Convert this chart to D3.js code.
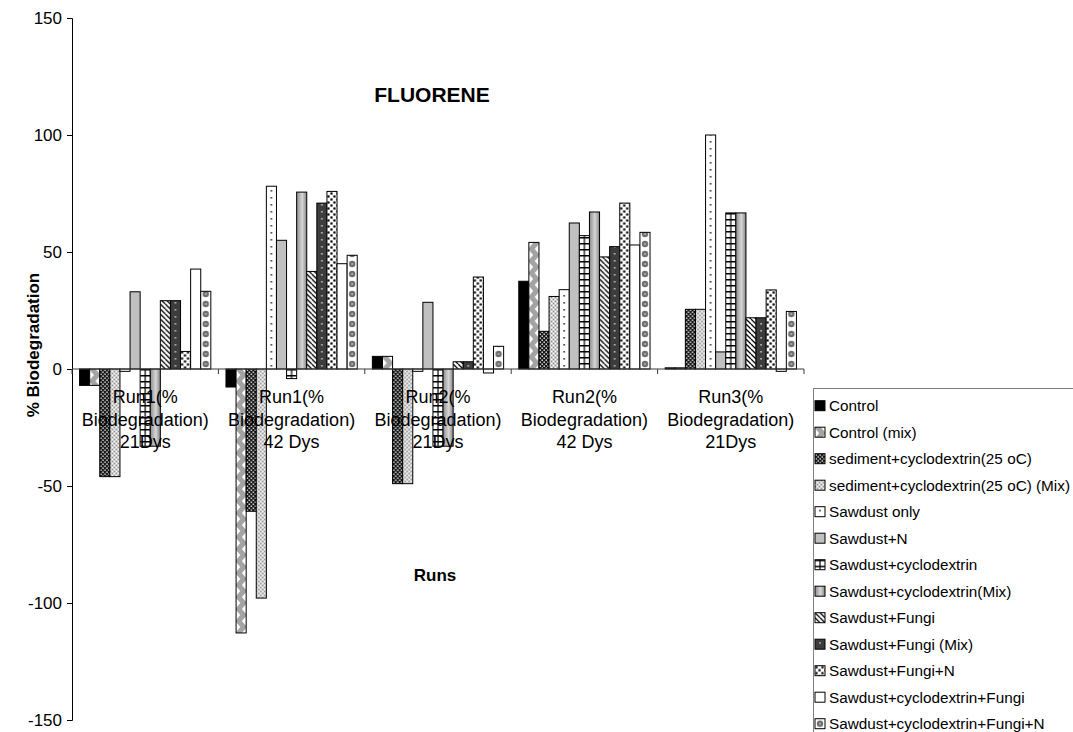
<!DOCTYPE html>
<html>
<head>
<meta charset="utf-8">
<script src="https://cdn.jsdelivr.net/npm/d3@7"></script>
<style>
  body { margin: 0; background: #fff; }
  svg { display: block; }
  text { font-family: "Liberation Sans", Arial, sans-serif; fill: #000; }
</style>
</head>
<body>
<svg id="chart" width="1073" height="732"></svg>
<script>
// ---- data -------------------------------------------------------------
const categories = [
  "Run1(% Biodegradation) 21Dys",
  "Run1(% Biodegradation) 42 Dys",
  "Run2(% Biodegradation) 21Dys",
  "Run2(% Biodegradation) 42 Dys",
  "Run3(% Biodegradation) 21Dys"
];
const categoryLines = [
  ["Run1(%", "Biodegradation)", "21Dys"],
  ["Run1(%", "Biodegradation)", "42 Dys"],
  ["Run2(%", "Biodegradation)", "21Dys"],
  ["Run2(%", "Biodegradation)", "42 Dys"],
  ["Run3(%", "Biodegradation)", "21Dys"]
];
const seriesNames = [
  "Control",
  "Control (mix)",
  "sediment+cyclodextrin(25 oC)",
  "sediment+cyclodextrin(25 oC) (Mix)",
  "Sawdust only",
  "Sawdust+N",
  "Sawdust+cyclodextrin",
  "Sawdust+cyclodextrin(Mix)",
  "Sawdust+Fungi",
  "Sawdust+Fungi (Mix)",
  "Sawdust+Fungi+N",
  "Sawdust+cyclodextrin+Fungi",
  "Sawdust+cyclodextrin+Fungi+N"
];
const control            = [-7.0,   -7.7,   5.4, 37.5,   0.5];
const controlMix         = [-7.0, -112.8,   5.4, 54.1,   0.5];
const sedCyclo           = [-46.0, -60.8, -49.0, 16.1,  25.5];
const sedCycloMix        = [-46.0, -97.9, -49.0, 31.0,  25.5];
const sawdustOnly        = [-1.0,   78.1,  -1.0, 33.9, 100.0];
const sawdustN           = [33.0,   55.0,  28.5, 62.4,   7.3];
const sawdustCyclo       = [-33.0,  -4.1, -33.0, 57.0,  66.7];
const sawdustCycloMix    = [-33.0,  75.6, -33.0, 67.1,  66.7];
const sawdustFungi       = [29.2,   41.7,   3.1, 47.9,  21.9];
const sawdustFungiMix    = [29.2,   70.9,   3.1, 52.3,  21.9];
const sawdustFungiN      = [7.5,    75.9,  39.3, 70.9,  33.8];
const sawdustCycloFungi  = [42.7,   45.0,  -1.7, 53.0,  -1.0];
const sawdustCycloFungiN = [33.2,   48.6,   9.7, 58.4,  24.6];
const yTicks = [-150, -100, -50, 0, 50, 100, 150];

const seriesValues = [control, controlMix, sedCyclo, sedCycloMix, sawdustOnly, sawdustN,
  sawdustCyclo, sawdustCycloMix, sawdustFungi, sawdustFungiMix, sawdustFungiN,
  sawdustCycloFungi, sawdustCycloFungiN];
// fill style of each series (grayscale hatch patterns)
const seriesFills = ["solid-black", "zigzag", "weave", "stipple", "dots", "solid-gray",
  "ladder", "gradient", "diag", "darkdots", "checker", "white", "blobs"];

// ---- layout -----------------------------------------------------------
const svg = d3.select("#chart");
const plot = { left: 72, right: 804, top: 18, bottom: 720 };

const x0 = d3.scaleBand().domain(categories).range([plot.left, plot.right]).padding(0);
const x1 = d3.scaleBand().domain(seriesNames).range([0, x0.bandwidth()])
  .paddingInner(0).paddingOuter(0.75);
const y = d3.scaleLinear().domain([-150, 150]).range([plot.bottom, plot.top]);
const bw = x1.bandwidth();
const zeroY = y(0);

const defs = svg.append("defs");

// gradient used by the "(Mix)" cyclodextrin series
const grad = defs.append("linearGradient").attr("id", "grad-mix")
  .attr("x1", 0).attr("x2", 1).attr("y1", 0).attr("y2", 0);
grad.append("stop").attr("offset", 0).attr("stop-color", "#8e8e8e");
grad.append("stop").attr("offset", 0.55).attr("stop-color", "#d6d6d6");
grad.append("stop").attr("offset", 1).attr("stop-color", "#858585");

// draws one tile of a hatch style; w = bar width, tile spans one group step
const hatch = {
  zigzag: { h: 12, bg: "#a3a3a3", draw(p, w) {
    p.append("path").attr("fill", "#fff")
      .attr("d", `M0,1L${w * 0.42},6L0,11Z M${w},-5L${w * 0.58},0L${w},5Z M${w},7L${w * 0.58},12L${w},17Z`);
  }},
  weave: { h: 4, bg: "#151515", draw(p, w) {
    for (let i = 0; i < w; i += 4) {
      p.append("rect").attr("x", i + 0.5).attr("y", 0.5).attr("width", 1.4).attr("height", 1.4).attr("fill", "#fff");
      p.append("rect").attr("x", i + 2.5).attr("y", 2.5).attr("width", 1.4).attr("height", 1.4).attr("fill", "#fff");
    }
  }},
  stipple: { h: 4, bg: "#cfcfcf", draw(p, w) {
    for (let i = 0; i < w; i += 4) {
      p.append("rect").attr("x", i).attr("y", 0).attr("width", 1).attr("height", 1).attr("fill", "#fff");
      p.append("rect").attr("x", i + 2).attr("y", 2).attr("width", 1).attr("height", 1).attr("fill", "#fff");
      p.append("rect").attr("x", i + 2).attr("y", 0).attr("width", 1).attr("height", 1).attr("fill", "#8a8a8a");
      p.append("rect").attr("x", i).attr("y", 2).attr("width", 1).attr("height", 1).attr("fill", "#8a8a8a");
    }
  }},
  dots: { h: 7, bg: "#fff", draw(p, w) {
    p.append("rect").attr("x", w / 2 - 0.8).attr("y", 3).attr("width", 1.6).attr("height", 1.6).attr("fill", "#333");
  }},
  ladder: { h: 6, bg: "#fff", draw(p, w) {
    p.append("rect").attr("x", 0).attr("y", 0).attr("width", w).attr("height", 1.5).attr("fill", "#000");
    p.append("rect").attr("x", w / 2 - 0.6).attr("y", 0).attr("width", 1.2).attr("height", 6).attr("fill", "#000");
  }},
  diag: { h: 5, bg: "#fff", draw(p, w) {
    for (let i = -5; i < w + 5; i += 5) {
      p.append("line").attr("x1", i).attr("y1", 0).attr("x2", i + 5).attr("y2", 5)
        .attr("stroke", "#000").attr("stroke-width", 1.3);
    }
  }},
  darkdots: { h: 7, bg: "#3c3c3c", draw(p, w) {
    p.append("rect").attr("x", w / 2 - 0.8).attr("y", 3).attr("width", 1.6).attr("height", 1.6).attr("fill", "#bdbdbd");
  }},
  checker: { h: 6, bg: "#fff", draw(p, w) {
    for (let i = 0; i < w; i += 6) {
      p.append("rect").attr("x", i + 0.4).attr("y", 0.4).attr("width", 2.2).attr("height", 2.2).attr("fill", "#000");
      p.append("rect").attr("x", i + 3.4).attr("y", 3.4).attr("width", 2.2).attr("height", 2.2).attr("fill", "#000");
    }
  }},
  blobs: { h: 10, bg: "#fff", draw(p, w) {
    p.append("circle").attr("cx", w / 2).attr("cy", 5).attr("r", 3.2).attr("fill", "#6e6e6e");
    p.append("rect").attr("x", w / 2 - 0.6).attr("y", 4.4).attr("width", 1.2).attr("height", 1.2).attr("fill", "#fff");
  }}
};

function fillFor(kind, id, ox, oy, tileW, w) {
  if (kind === "solid-black") return "#000";
  if (kind === "solid-gray") return "#c0c0c0";
  if (kind === "white") return "#fff";
  if (kind === "gradient") return "url(#grad-mix)";
  const spec = hatch[kind];
  const p = defs.append("pattern").attr("id", id)
    .attr("patternUnits", "userSpaceOnUse")
    .attr("x", ox).attr("y", oy).attr("width", tileW).attr("height", spec.h);
  p.append("rect").attr("width", tileW).attr("height", spec.h).attr("fill", spec.bg);
  spec.draw(p, w);
  return `url(#${id})`;
}

// ---- bars -------------------------------------------------------------
const series = seriesNames.map((name, i) => ({
  name, i, values: seriesValues[i],
  fill: fillFor(seriesFills[i], "bar-pat-" + i, plot.left + x1(name), zeroY, x0.step(), bw)
}));

const barGroups = svg.append("g").selectAll("g").data(series).join("g")
  .attr("fill", d => d.fill);
barGroups.selectAll("rect")
  .data(d => d.values.map((v, k) => ({ v, cat: categories[k], name: d.name })))
  .join("rect")
  .attr("x", d => x0(d.cat) + x1(d.name))
  .attr("y", d => Math.min(y(d.v), zeroY))
  .attr("width", bw)
  .attr("height", d => Math.abs(y(d.v) - zeroY))
  .attr("stroke", "#000")
  .attr("stroke-width", 1);

// ---- axes -------------------------------------------------------------
const yAxis = svg.append("g").attr("transform", `translate(${plot.left},0)`)
  .call(d3.axisLeft(y).tickValues(yTicks).tickSize(5).tickPadding(5).tickFormat(d => String(d)));
yAxis.select(".domain").attr("stroke", "#000");
yAxis.selectAll(".tick line").attr("stroke", "#000");
yAxis.selectAll(".tick text").attr("font-size", 17)
  .attr("font-family", "'Liberation Sans', Arial, sans-serif").attr("fill", "#000");

// category axis along the zero line
const xAxis = svg.append("g").attr("transform", `translate(0,${zeroY})`);
xAxis.append("line").attr("x1", plot.left).attr("x2", plot.right)
  .attr("stroke", "#3a3a3a").attr("stroke-width", 1);
const bounds = categories.map(c => x0(c)).concat([plot.right]);
xAxis.selectAll("line.tk").data(bounds).join("line").attr("class", "tk")
  .attr("x1", d => d).attr("x2", d => d).attr("y1", 0).attr("y2", 5)
  .attr("stroke", "#3a3a3a");

const catLabels = svg.append("g").selectAll("text").data(categories).join("text")
  .attr("text-anchor", "middle")
  .attr("font-size", 18)
  .attr("x", d => x0(d) + x0.bandwidth() / 2)
  .attr("y", 403);
catLabels.selectAll("tspan").data((d, i) => categoryLines[i]).join("tspan")
  .attr("x", function () { return d3.select(this.parentNode).attr("x"); })
  .attr("dy", (d, i) => i === 0 ? 0 : 22.5)
  .text(d => d);

// ---- titles -----------------------------------------------------------
svg.append("text").attr("x", 432).attr("y", 102).attr("text-anchor", "middle")
  .attr("font-size", 21).attr("font-weight", "bold").text("FLUORENE");
svg.append("text").attr("x", 435).attr("y", 581).attr("text-anchor", "middle")
  .attr("font-size", 17).attr("font-weight", "bold").text("Runs");
svg.append("text").attr("transform", "translate(39,345) rotate(-90)")
  .attr("text-anchor", "middle").attr("font-size", 17).attr("font-weight", "bold")
  .text("% Biodegradation");

// ---- legend -----------------------------------------------------------
const legend = svg.append("g");
legend.append("rect").attr("x", 813.5).attr("y", 388.5).attr("width", 300).attr("height", 400)
  .attr("fill", "#fff").attr("stroke", "#808080");
const rowY = i => 405.7 + i * 26.5;
const items = legend.selectAll("g.item").data(series).join("g").attr("class", "item");
items.append("rect")
  .attr("x", 815).attr("y", d => rowY(d.i) - 5).attr("width", 10).attr("height", 10)
  .attr("fill", d => fillFor(seriesFills[d.i], "leg-pat-" + d.i, 815, rowY(d.i) - 5, 10, 10))
  .attr("stroke", "#000").attr("stroke-width", 1);
items.append("text").attr("x", 829).attr("y", d => rowY(d.i) + 5.4)
  .attr("font-size", 15.3).text(d => d.name);
</script>
</body>
</html>
